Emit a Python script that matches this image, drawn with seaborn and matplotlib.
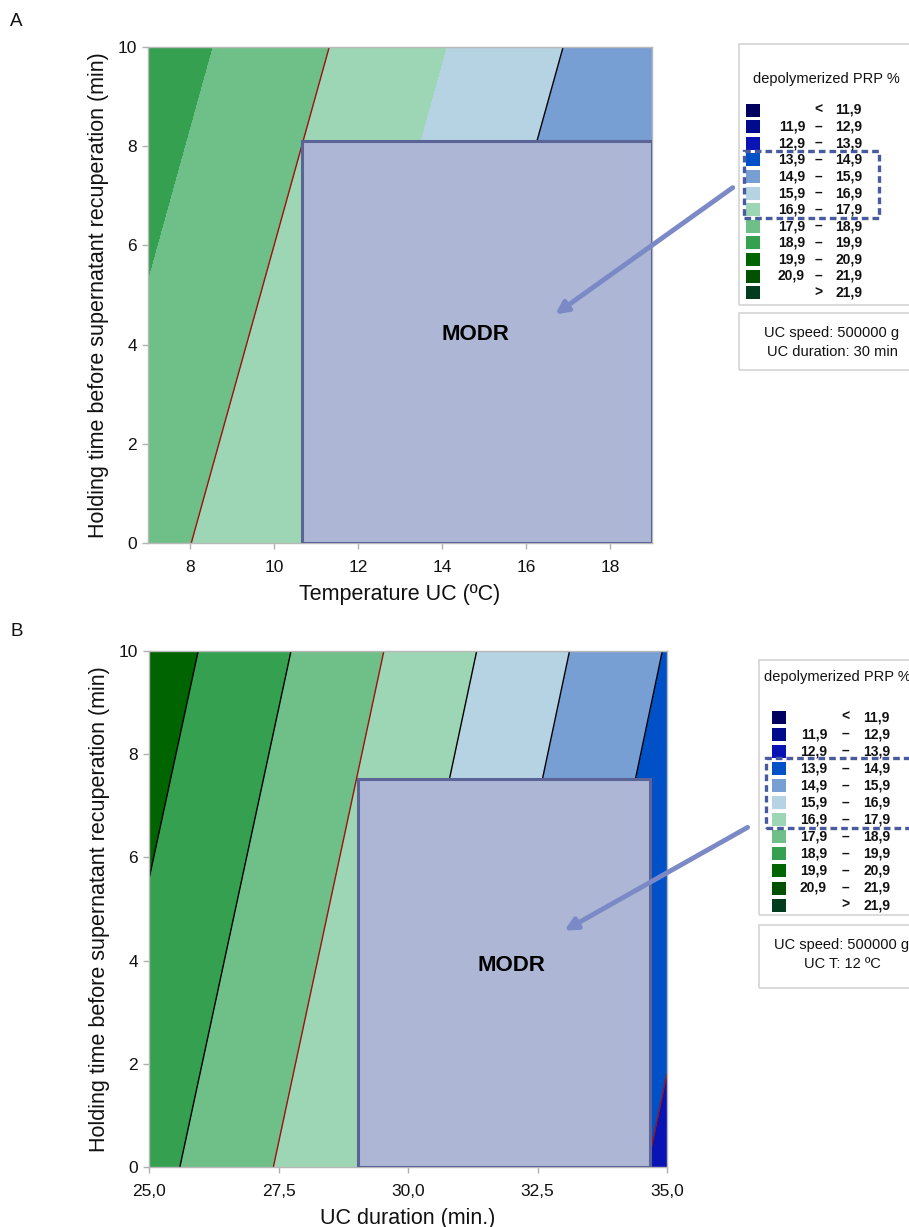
import numpy as np
import matplotlib
matplotlib.use("Agg")
import matplotlib.pyplot as plt
import seaborn as sns
from matplotlib.patches import Rectangle, FancyArrowPatch

# contour bands (depolymerized PRP %)
band_edges = [0.0, 11.9, 12.9, 13.9, 14.9, 15.9, 16.9, 17.9, 18.9, 19.9, 20.9, 21.9, 100.0]
band_colors = ["#00005f", "#000a8c", "#0a14b4", "#0050c8", "#779fd4", "#b5d3e3",
               "#9dd6b5", "#6fc088", "#35a04f", "#006400", "#005000", "#003c1e"]
band_lo = ["", "11,9", "12,9", "13,9", "14,9", "15,9", "16,9", "17,9", "18,9", "19,9", "20,9", ""]
band_sym = ["<", "–", "–", "–", "–", "–", "–", "–", "–", "–", "–", ">"]
band_hi = ["11,9", "12,9", "13,9", "14,9", "15,9", "16,9", "17,9", "18,9", "19,9", "20,9", "21,9", "21,9"]

# panel A: temperature vs holding time (UC duration 30 min)
temp_a = [7, 19]
hold_a = [0, 10]
prp_a = [[18.27, 13.96],   # hold = 0
         [19.45, 15.14]]   # hold = 10
lines_a = {17.9: "#a01010", 15.9: "black"}
modr_a = (10.67, 0.0, 19.0, 8.1)

# panel B: UC duration vs holding time (UC T 12 ºC)
dur_b = [25, 35]
hold_b = [0, 10]
prp_b = [[19.23, 13.69],
         [20.43, 14.85]]
lines_b = {19.9: "black", 18.9: "black", 17.9: "#a01010", 16.9: "black",
           15.9: "black", 14.9: "black", 13.9: "#a01010"}
modr_b = (29.03, 0.0, 34.67, 7.52)

W, H = 909, 1227
sns.set_theme(style="white")
plt.rcParams["font.family"] = ["Liberation Sans", "DejaVu Sans"]
fig = plt.figure(figsize=(W / 100, H / 100), dpi=100)


def fx(px): return px / W
def fy(py): return 1 - py / H


def panel(rect, xs, ys, zs, lines, modr, xticks, xlabels, xlabel, modr_xy):
    ax = fig.add_axes(rect)
    X, Y = np.meshgrid(xs, ys)
    Z = np.array(zs)
    ax.contourf(X, Y, Z, levels=band_edges, colors=band_colors)
    lv = sorted(lines)
    ax.contour(X, Y, Z, levels=lv, colors=[lines[l] for l in lv], linewidths=1.0)
    x0, y0, x1, y1 = modr
    ax.add_patch(Rectangle((x0, y0), x1 - x0, y1 - y0, facecolor="#aeb6d6",
                           edgecolor="#5a6496", lw=2.2, zorder=5))
    ax.text(*modr_xy, "MODR", ha="center", va="center", fontsize=16,
            fontweight="bold", color="black", zorder=6)
    ax.set_xlim(xs[0], xs[-1]); ax.set_ylim(0, 10)
    ax.set_xticks(xticks); ax.set_xticklabels(xlabels)
    ax.set_yticks([0, 2, 4, 6, 8, 10])
    ax.tick_params(axis="both", which="both", direction="out", length=4, width=1,
                   color="#b0b0b0", labelsize=12.5, labelcolor="#111111",
                   left=True, bottom=True, pad=4)
    ax.tick_params(axis="x", pad=8)
    for s in ax.spines.values():
        s.set_color("#b8b8b8"); s.set_linewidth(1.0)
    ax.set_xlabel(xlabel, fontsize=15.5, labelpad=7, color="#111111")
    ax.set_ylabel("Holding time before supernatant recuperation (min)", fontsize=15.5,
                  labelpad=6, color="#111111")
    return ax


panel([fx(148), fy(543), fx(652) - fx(148), (543 - 47) / H], temp_a, hold_a, prp_a,
      lines_a, modr_a, [8, 10, 12, 14, 16, 18], ["8", "10", "12", "14", "16", "18"],
      "Temperature UC (ºC)", (14.8, 4.2))
panel([fx(149), fy(1167), fx(667) - fx(149), (1167 - 651) / H], dur_b, hold_b, prp_b,
      lines_b, modr_b, [25, 27.5, 30, 32.5, 35], ["25,0", "27,5", "30,0", "32,5", "35,0"],
      "UC duration (min.)", (32.0, 3.9))

fig.text(fx(10), fy(22), "A", fontsize=13.5, va="center", ha="left", color="#111111")
fig.text(fx(10), fy(632), "B", fontsize=13.5, va="center", ha="left", color="#111111")


def legend(box, info_box, title_xy, row0, dy, sw_x, lo_x, sym_x, hi_x, info_lines, dash_box):
    bx0, by0, bx1, by1 = box
    fig.add_artist(Rectangle((fx(bx0), fy(by1)), fx(bx1 - bx0), (by1 - by0) / H,
                             transform=fig.transFigure, fill=False, edgecolor="#d4d4d4", lw=1.2))
    ix0, iy0, ix1, iy1 = info_box
    fig.add_artist(Rectangle((fx(ix0), fy(iy1)), fx(ix1 - ix0), (iy1 - iy0) / H,
                             transform=fig.transFigure, fill=False, edgecolor="#d4d4d4", lw=1.2))
    fig.text(fx(title_xy[0]), fy(title_xy[1]), "depolymerized PRP %", ha="center",
             va="center", fontsize=10.5, color="#111111")
    for i, c in enumerate(band_colors):
        y = row0 + dy * i
        fig.add_artist(Rectangle((fx(sw_x), fy(y + 6.5)), fx(14), 13 / H,
                                 transform=fig.transFigure, facecolor=c, edgecolor="none"))
        kw = dict(va="center", fontsize=10, fontweight="bold", color="#111111")
        if band_lo[i]:
            fig.text(fx(lo_x), fy(y), band_lo[i], ha="right", **kw)
        fig.text(fx(sym_x), fy(y), band_sym[i], ha="center", **kw)
        fig.text(fx(hi_x), fy(y), band_hi[i], ha="left", **kw)
    cx = (ix0 + ix1) / 2
    for k, t in enumerate(info_lines):
        fig.text(fx(cx), fy(iy0 + 20 + 19 * k), t, ha="center", va="center", fontsize=10.5,
                 color="#111111")
    dx0, dy0, dx1, dy1 = dash_box
    fig.add_artist(Rectangle((fx(dx0), fy(dy1)), fx(dx1 - dx0), (dy1 - dy0) / H,
                             transform=fig.transFigure, fill=False, edgecolor="#4a5aa0",
                             lw=2.4, linestyle=(0, (2.0, 1.2))))


legend((739, 44, 925, 305), (739, 313, 925, 370), (826, 79), 110, 16.6, 746, 805, 818, 835,
       ["UC speed: 500000 g", "UC duration: 30 min"], (744, 151, 879, 218))
legend((759, 660, 925, 915), (759, 925, 925, 988), (837, 677), 717, 17.1, 772, 827, 845, 863,
       ["UC speed: 500000 g", "UC T: 12 ºC"], (766, 758, 912, 828))

for (p0, p1) in [((735, 186), (553, 316)), ((750, 826), (562, 932))]:
    fig.add_artist(FancyArrowPatch((fx(p0[0]), fy(p0[1])), (fx(p1[0]), fy(p1[1])),
                                   transform=fig.transFigure, arrowstyle="-|>",
                                   mutation_scale=18, lw=3.5, color="#7b8ac6", zorder=10))

fig.savefig("out.png", dpi=100)
